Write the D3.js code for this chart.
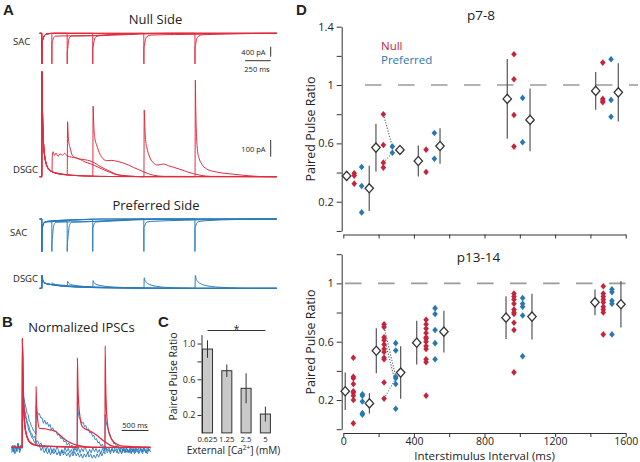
<!DOCTYPE html>
<html><head><meta charset="utf-8">
<script src="https://cdn.jsdelivr.net/npm/d3@7"></script>
<style>body{margin:0;background:#fff}svg{font-family:'Open Sans',sans-serif;display:block}</style>
</head><body><svg id="c" width="640" height="462"></svg>
<script>
// ================= DATA =================
// Panel A: paired-pulse traces (time ms, current pA); ISIs of the second stimulus
const isiA = [100, 250, 500, 1000, 1500];
const nullSac100 = [[-20,0],[0,0],[0.5,-1230],[1.5,-260],[6,-290],[14,-200],[28,-90],[50,-30],[99,0],[99.5,-1230],[100.5,-420],[106,-330],[118,-170],[135,-115],[200,-105],[350,-100],[550,-95],[700,-50],[900,-15],[1200,0],[2300,0]];
const nullSac250 = [[-20,0],[0,0],[0.5,-1230],[1.5,-240],[6,-280],[14,-190],[28,-80],[50,-25],[120,0],[249,0],[249.5,-1230],[250.5,-800],[255,-600],[263,-300],[275,-150],[300,-110],[450,-100],[600,-70],[800,-25],[1100,0],[2300,0]];
const nullSac500 = [[-20,0],[0,0],[0.5,-1230],[1.5,-250],[6,-290],[14,-200],[28,-85],[50,-25],[120,0],[499,0],[499.5,-1230],[500.5,-650],[505,-500],[514,-280],[528,-150],[560,-100],[800,-60],[1000,-25],[1300,0],[2300,0]];
const nullSac1000 = [[-20,0],[0,0],[0.5,-1230],[1.5,-250],[6,-280],[14,-190],[28,-80],[50,-25],[120,0],[999,0],[999.5,-1230],[1000.5,-600],[1005,-480],[1014,-260],[1030,-130],[1070,-70],[1300,-50],[1500,-40],[1800,-10],[2300,0]];
const nullSac1500 = [[-20,0],[0,0],[0.5,-1230],[1.5,-250],[6,-280],[14,-190],[28,-80],[50,-25],[120,0],[1499,0],[1499.5,-1230],[1500.5,-600],[1505,-480],[1514,-260],[1530,-130],[1570,-60],[1800,-30],[2100,-5],[2300,0]];

const nullFirst = [[-20,0],[0,0],[0.5,0],[3,630],[7,430],[12,290],[20,180],[30,120],[45,75],[65,48],[90,34]];
const nullDsgc100 = [[100,30],[101,30],[104,125],[112,150],[125,128],[140,142],[160,122],[180,138],[200,128],[225,140],[250,125],[290,118],[340,112],[375,104],[425,88],[475,78],[520,66],[570,52],[620,38],[670,26],[730,12],[850,4],[1000,0],[2300,0]];
const nullDsgc250 = [[120,26],[160,20],[200,15],[249,12],[250,12],[253,330],[260,240],[268,195],[277,175],[300,128],[340,112],[375,106],[420,102],[473,95],[520,82],[570,62],[620,46],[668,32],[734,14],[850,4],[1000,0],[2300,0]];
const nullDsgc500 = [[130,24],[200,16],[300,9],[400,5],[499,3],[500,3],[503,423],[510,300],[520,230],[538,190],[570,135],[600,108],[636,96],[680,98],[740,92],[798,82],[850,70],[896,56],[950,42],[994,30],[1092,9],[1200,2],[2300,0]];
const nullDsgc1000 = [[130,22],[200,14],[300,8],[450,4],[700,1],[999,0],[1000,0],[1003,400],[1010,280],[1018,210],[1027,180],[1060,112],[1100,80],[1125,70],[1160,73],[1190,76],[1240,66],[1288,57],[1350,45],[1419,30],[1549,9],[1650,2],[2300,0]];
const nullDsgc1500 = [[130,22],[200,14],[300,8],[450,4],[700,1],[1499,0],[1500,0],[1503,580],[1508,380],[1515,240],[1523,165],[1540,110],[1560,82],[1614,46],[1712,28],[1875,15],[2038,5],[2200,0],[2300,0]];

const prefSac100 = [[-20,0],[0,0],[0.5,-1300],[1.5,-300],[6,-320],[14,-220],[28,-130],[60,-110],[99,-110],[99.5,-1300],[100.5,-1000],[105,-750],[112,-420],[122,-220],[140,-130],[300,-115],[500,-100],[700,-60],[900,-20],[1200,0],[2300,0]];
const prefSac250 = [[-20,0],[0,0],[0.5,-1300],[1.5,-300],[6,-320],[14,-220],[28,-130],[60,-110],[150,-100],[249,-90],[249.5,-1300],[250.5,-1100],[256,-800],[264,-450],[275,-220],[295,-130],[400,-115],[600,-80],[800,-30],[1100,0],[2300,0]];
const prefSac500 = [[-20,0],[0,0],[0.5,-1300],[1.5,-300],[6,-320],[14,-220],[28,-130],[60,-100],[200,-70],[350,-40],[499,-20],[499.5,-1300],[500.5,-350],[505,-300],[515,-180],[530,-120],[700,-80],[900,-40],[1200,-10],[2300,0]];
const prefSac1000 = [[-20,0],[0,0],[0.5,-1300],[1.5,-300],[6,-320],[14,-220],[28,-130],[60,-90],[200,-50],[400,-20],[600,0],[999,0],[999.5,-1300],[1000.5,-330],[1005,-300],[1015,-190],[1030,-120],[1100,-90],[1400,-50],[1800,-10],[2300,0]];
const prefSac1500 = [[-20,0],[0,0],[0.5,-1300],[1.5,-300],[6,-320],[14,-220],[28,-130],[60,-90],[200,-50],[400,-20],[600,0],[1499,0],[1499.5,-1300],[1500.5,-330],[1505,-300],[1515,-180],[1530,-110],[1600,-70],[1900,-20],[2300,0]];

const prefFirst = [[-20,0],[0,0],[0.5,0],[3,80],[8,55],[15,42],[30,32],[60,26],[99,22]];
const prefDsgc100 = [[100,22],[103,34],[115,26],[150,22],[250,16],[400,10],[600,5],[900,2],[1200,0],[2300,0]];
const prefDsgc250 = [[150,18],[200,15],[249,14],[250,14],[253,42],[262,32],[280,24],[320,18],[400,12],[600,6],[900,2],[1200,0],[2300,0]];
const prefDsgc500 = [[150,17],[250,12],[350,9],[499,6],[500,6],[503,46],[512,34],[530,25],[570,17],[650,10],[800,5],[1000,2],[1300,0],[2300,0]];
const prefDsgc1000 = [[150,17],[250,11],[400,6],[600,3],[999,1],[1000,1],[1003,63],[1010,48],[1025,36],[1060,22],[1120,12],[1200,6],[1350,2],[1500,0],[2300,0]];
const prefDsgc1500 = [[150,17],[250,11],[400,6],[600,3],[900,1],[1499,0],[1500,0],[1503,78],[1510,58],[1525,42],[1560,26],[1620,15],[1700,8],[1850,3],[2000,0],[2300,0]];

// Panel B: normalized IPSCs (time ms, normalized amplitude)
const redFirstB = [[-200,0],[0,0],[2,1.0],[8,0.7],[19,0.46],[35,0.28],[50,0.19],[80,0.11],[112,0.067],[160,0.04],[250,0.02]];
const redB250 = [[255,0.02],[258,0.56],[265,0.42],[270,0.35],[282,0.28],[320,0.175],[425,0.17],[519,0.16],[612,0.15],[706,0.11],[831,0.06],[1019,0.02],[1300,0],[2400,0]];
const redB1000 = [[400,0.01],[1028,0],[1031,0.82],[1042,0.55],[1056,0.40],[1080,0.28],[1112,0.2],[1174,0.17],[1268,0.15],[1393,0.11],[1517,0.06],[1642,0.02],[1800,0],[2400,0]];
const redB1500 = [[400,0.01],[1548,0],[1551,0.93],[1560,0.6],[1573,0.37],[1590,0.24],[1610,0.16],[1674,0.07],[1768,0.03],[1891,0.01],[2400,0]];
const blueB250 = [[-200,-0.03],[-175,0.02],[-150,-0.05],[-125,0.01],[-100,-0.04],[-75,0.03],[-50,-0.02],[-25,0.02],[0,-0.01],[5,0.92],[15,0.6],[30,0.46],[50,0.40],[70,0.36],[90,0.31],[110,0.30],[130,0.24],[150,0.23],[170,0.19],[190,0.18],[210,0.15],[235,0.14],[255,0.12],[259,0.38],[275,0.33],[295,0.30],[320,0.31],[345,0.27],[370,0.27],[395,0.22],[420,0.25],[445,0.21],[470,0.23],[495,0.19],[520,0.21],[545,0.16],[570,0.18],[600,0.14],[630,0.15],[660,0.11],[690,0.12],[720,0.08],[750,0.09],[780,0.05],[810,0.06],[840,0.02],[870,0.04],[900,0.0],[930,0.02],[960,-0.03],[990,0.01],[1020,-0.04],[1050,0.0],[1080,-0.05],[1110,-0.01],[1140,-0.04],[1170,0.01],[1200,-0.03],[1230,-0.06],[1260,-0.02],[1290,-0.05],[1320,0.0],[1350,-0.04],[1380,-0.01],[1410,-0.05],[1440,-0.02],[1470,-0.06],[1500,-0.01],[1530,-0.04],[1560,0.0],[1590,-0.05],[1620,-0.02],[1650,-0.06],[1680,-0.01],[1710,-0.04],[1740,0.01],[1770,-0.03],[1800,-0.06],[1830,-0.02],[1860,-0.05],[1890,0.0],[1920,-0.04],[1950,-0.01],[1980,-0.05],[2010,-0.02],[2040,-0.06],[2070,-0.01],[2100,-0.04],[2130,0.01],[2160,-0.03],[2190,-0.05],[2220,-0.01],[2250,-0.04],[2280,0.0],[2310,-0.03],[2340,-0.06],[2370,-0.02],[2400,-0.04]];
const blueB1000 = [[-200,0.01],[-170,-0.04],[-140,0.02],[-110,-0.03],[-80,0.03],[-50,-0.05],[-20,0.0],[0,0.0],[5,0.88],[15,0.55],[30,0.40],[50,0.33],[75,0.27],[100,0.22],[125,0.19],[150,0.14],[175,0.13],[200,0.09],[230,0.1],[260,0.05],[290,0.06],[320,0.02],[350,0.04],[380,-0.01],[410,0.02],[440,-0.03],[470,0.01],[500,-0.04],[530,0.0],[560,-0.05],[590,-0.01],[620,-0.04],[650,0.01],[680,-0.03],[710,-0.06],[740,-0.02],[770,-0.05],[800,0.0],[830,-0.04],[860,-0.01],[890,-0.05],[920,-0.02],[950,-0.06],[980,-0.01],[1010,-0.03],[1028,-0.02],[1032,0.42],[1045,0.33],[1065,0.27],[1090,0.25],[1115,0.22],[1140,0.23],[1165,0.19],[1190,0.2],[1215,0.16],[1240,0.17],[1265,0.13],[1290,0.14],[1315,0.1],[1340,0.11],[1365,0.07],[1390,0.08],[1415,0.04],[1440,0.05],[1470,0.01],[1500,0.03],[1530,-0.02],[1560,0.01],[1590,-0.03],[1620,0.0],[1650,-0.04],[1680,-0.01],[1710,-0.05],[1740,-0.02],[1770,-0.05],[1800,0.0],[1830,-0.03],[1860,-0.06],[1890,-0.02],[1920,-0.05],[1950,0.0],[1980,-0.04],[2010,-0.01],[2040,-0.05],[2070,-0.02],[2100,-0.06],[2130,-0.01],[2160,-0.04],[2190,0.01],[2220,-0.03],[2250,-0.06],[2280,-0.02],[2310,-0.05],[2340,0.0],[2370,-0.03],[2400,-0.01]];
const blueB1500 = [[-200,-0.05],[-170,0.0],[-140,-0.06],[-110,-0.02],[-80,0.04],[-50,-0.03],[-20,0.02],[0,0.0],[5,0.85],[15,0.52],[30,0.37],[50,0.3],[75,0.24],[100,0.2],[125,0.15],[150,0.13],[175,0.09],[200,0.08],[230,0.04],[260,0.05],[290,0.01],[320,0.02],[350,-0.03],[380,0.0],[410,-0.05],[440,-0.02],[470,-0.06],[500,-0.03],[530,-0.07],[560,-0.02],[590,-0.06],[620,-0.03],[650,-0.07],[680,-0.04],[710,-0.08],[740,-0.03],[770,-0.07],[800,-0.04],[830,-0.08],[860,-0.05],[890,-0.09],[920,-0.05],[950,-0.08],[980,-0.04],[1010,-0.08],[1040,-0.05],[1070,-0.09],[1100,-0.06],[1130,-0.1],[1160,-0.06],[1190,-0.09],[1220,-0.05],[1250,-0.09],[1280,-0.06],[1310,-0.1],[1340,-0.07],[1370,-0.1],[1400,-0.06],[1430,-0.09],[1460,-0.05],[1490,-0.08],[1520,-0.04],[1548,-0.06],[1552,0.3],[1565,0.24],[1585,0.2],[1605,0.17],[1625,0.13],[1645,0.12],[1665,0.08],[1690,0.07],[1715,0.03],[1740,0.04],[1765,0.0],[1790,0.02],[1820,-0.03],[1850,0.0],[1880,-0.04],[1910,-0.01],[1940,-0.05],[1970,-0.02],[2000,-0.05],[2030,0.0],[2060,-0.04],[2090,-0.01],[2120,-0.05],[2150,-0.02],[2180,-0.06],[2210,-0.01],[2240,-0.04],[2270,0.0],[2300,-0.03],[2330,-0.05],[2360,-0.01],[2400,-0.04]];

// Panel C: PPR vs external calcium
const caLabels = ["0.625", "1.25", "2.5", "5"];
const caPPR = [0.938, 0.696, 0.499, 0.211];
const caErr = [0.098, 0.07, 0.168, 0.084];
const cYTicks = [0.2, 0.4, 0.6, 0.8, 1.0];
const cYLabels = [0.2, 0.6, 1.0];

// Panel D: paired pulse ratio vs interstimulus interval
const dXTicks = [0, 200, 400, 600, 800, 1000, 1200, 1400, 1600];
const dXLabels = [0, 400, 800, 1200, 1600];
const dYTicksTop = [0, 0.2, 0.4, 0.6, 0.8, 1.0, 1.2, 1.4];
const dYTicksBot = [0, 0.2, 0.4, 0.6, 0.8, 1.0, 1.2];
const dYLabels = [0.2, 0.6, 1, 1.4];

const p78_xNullMean = [19, 185, 425, 929, 1430];
const p78_nullMean = [0.377, 0.571, 0.479, 0.905, 0.96];
const p78_nullErr = [0, 0.163, 0.106, 0.274, 0.13];
const p78_xNull = [62, 227, 469, 967, 1470];
const p78_null = [[0.395,0.379,0.324],[0.80,0.589,0.468,0.434],[0.557,0.404],[1.211,1.04,0.795,0.578],[1.154,0.905,0.891,0.882]];
const p78_xPref = [104, 278, 516, 1016, 1517];
const p78_pref = [[0.438,0.308,0.127],[0.578,0.536],[0.671,0.495],[0.912,0.608],[1.177,0.898,0.783]];
const p78_xPrefMean = [147, 321, 548, 1058, 1558];
const p78_prefMean = [0.292, 0.555, 0.582, 0.761, 0.95];
const p78_prefErr = [0.155, 0, 0.122, 0.215, 0.2];
const p78_pairs = [[0.80, 0.578], [0.468, 0.536]];

const p1314_xNullMean = [11, 187, 416, 922, 1426];
const p1314_nullMean = [0.26, 0.538, 0.593, 0.765, 0.87];
const p1314_nullErr = [0.128, 0.155, 0.15, 0.146, 0.088];
const p1314_xNull = [57, 231, 469, 967, 1473];
const p1314_null = [[0.49,0.36,0.35,0.31,0.26,0.25,0.23,0.20,0.04],[0.72,0.70,0.63,0.61,0.58,0.55,0.53,0.49,0.48,0.32,0.21],[0.75,0.72,0.69,0.66,0.63,0.62,0.60,0.57,0.55,0.48,0.46,0.23],[0.93,0.91,0.89,0.86,0.82,0.80,0.79,0.73,0.68,0.39],[0.98,0.93,0.91,0.89,0.87,0.84,0.82,0.80,0.65]];
const p1314_xPref = [108, 297, 520, 1016, 1522];
const p1314_pref = [[0.24,0.23,0.19,0.11,0.10],[0.59,0.54,0.36,0.35,0.31,0.14],[0.83,0.79,0.68,0.59,0.48],[0.90,0.86,0.84,0.78,0.50],[0.96,0.94,0.88,0.86,0.65]];
const p1314_xPrefMean = [148, 325, 570, 1069, 1573];
const p1314_prefMean = [0.177, 0.388, 0.669, 0.772, 0.857];
const p1314_prefErr = [0.07, 0.18, 0.143, 0.157, 0.16];
const p1314_pairs = [[0.70, 0.36], [0.63, 0.31], [0.21, 0.35]];

// ================= DRAWING =================
const svg = d3.select('#c');
const RED = '#e12b3e', BLUE = '#2a7bbb', DRED = '#c3253c', DBLUE = '#2878b0', AX = '#333';
const line = (x, y) => d3.line().x(d => x(d[0])).y(d => y(d[1])).curve(d3.curveMonotoneX);
function txt(x, y, s, size, opts = {}) {
  const t = svg.append('text').attr('x', x).attr('y', y).attr('font-size', size).text(s)
    .attr('text-anchor', opts.anchor || 'start').attr('fill', opts.fill || '#222');
  if (opts.bold) t.attr('font-weight', 'bold').attr('font-family', "'Liberation Sans',Arial,sans-serif");
  if (opts.rot) t.attr('transform', `rotate(-90,${x},${y})`);
  return t;
}

// ---- Panel A ----
const xA = d3.scaleLinear().domain([0, 2300]).range([41.7, 276.8]);
const ySacN = d3.scaleLinear().domain([0, -1230]).range([33.3, 64]);
const yDsN = d3.scaleLinear().domain([0, 630]).range([176.7, 71.7]);
const ySacP = d3.scaleLinear().domain([0, -1300]).range([219, 251.5]);
const yDsP = d3.scaleLinear().domain([0, 80]).range([288.3, 275]);
const gA = svg.append('g').attr('fill', 'none').attr('stroke-width', 1);
const nullSacs = [nullSac100, nullSac250, nullSac500, nullSac1000, nullSac1500];
const nullDs = [nullDsgc100, nullDsgc250, nullDsgc500, nullDsgc1000, nullDsgc1500].map(d => nullFirst.concat(d));
const prefSacs = [prefSac100, prefSac250, prefSac500, prefSac1000, prefSac1500];
const prefDs = [prefDsgc100, prefDsgc250, prefDsgc500, prefDsgc1000, prefDsgc1500].map(d => prefFirst.concat(d));
isiA.forEach((isi, i) => {
  gA.append('path').attr('d', line(xA, ySacN)(nullSacs[i])).attr('stroke', RED);
  gA.append('path').attr('d', line(xA, yDsN)(nullDs[i])).attr('stroke', RED);
  gA.append('path').attr('d', line(xA, ySacP)(prefSacs[i])).attr('stroke', BLUE);
  gA.append('path').attr('d', line(xA, yDsP)(prefDs[i])).attr('stroke', BLUE);
});
// scale bars
const sb = svg.append('g').attr('stroke', '#333').attr('stroke-width', 1);
sb.append('line').attr('x1', 270.7).attr('x2', 270.7).attr('y1', ySacN(0) + 13.4).attr('y2', ySacN(0) + 13.4 + (ySacN(-400) - ySacN(0)));
sb.append('line').attr('x1', 270.7 - (xA(250) - xA(0))).attr('x2', 270.7).attr('y1', 60.7).attr('y2', 60.7);
sb.append('line').attr('x1', 270.7).attr('x2', 270.7).attr('y1', 140).attr('y2', 140 + (yDsN(0) - yDsN(100)));
txt(3, 15, 'A', 15, {bold: true});
txt(155.5, 23.5, 'Null Side', 13, {anchor: 'middle'});
txt(156, 210, 'Preferred Side', 13, {anchor: 'middle'});
txt(13, 45, 'SAC', 9.5); txt(13, 173, 'DSGC', 9.5);
txt(10, 236, 'SAC', 9.5); txt(13, 282, 'DSGC', 9.5);
txt(265.5, 55, '400 pA', 7.5, {anchor: 'end'});
txt(257, 71.5, '250 ms', 7.5, {anchor: 'middle'});
txt(265.5, 152, '100 pA', 7.5, {anchor: 'end'});

// ---- Panel B ----
const xB = d3.scaleLinear().domain([0, 2400]).range([22.3, 150.5]);
const yB = d3.scaleLinear().domain([0, 1]).range([447.3, 338.3]);
const gB = svg.append('g').attr('fill', 'none');
[blueB250, blueB1000, blueB1500].forEach(d => gB.append('path').attr('d', d3.line().x(p => xB(p[0])).y(p => yB(p[1]))(d)).attr('stroke', BLUE).attr('stroke-width', 0.9));
[redB250, redB1000, redB1500].forEach(d => gB.append('path').attr('d', line(xB, yB)(redFirstB.concat(d))).attr('stroke', RED).attr('stroke-width', 1.2));
svg.append('line').attr('x1', 121.7).attr('x2', 121.7 + xB(500) - xB(0)).attr('y1', 430.5).attr('y2', 430.5).attr('stroke', '#333');
txt(135, 428, '500 ms', 7.5, {anchor: 'middle'});
txt(2, 327, 'B', 15, {bold: true});
txt(81.5, 331.5, 'Normalized IPSCs', 13, {anchor: 'middle'});

// ---- Panel C ----
const xC = d3.scaleBand().domain(caLabels).range([202.5, 270.4]).paddingInner(0.48).paddingOuter(0);
const yC = d3.scaleLinear().domain([0, 1.1]).range([432.9, 334.6]);
const gC = svg.append('g');
gC.selectAll('rect').data(caPPR).join('rect')
  .attr('x', (d, i) => xC(caLabels[i])).attr('width', xC.bandwidth())
  .attr('y', d => yC(d)).attr('height', d => yC(0) - yC(d))
  .attr('fill', '#c9c9c9').attr('stroke', '#333').attr('stroke-width', 1);
gC.selectAll('line.err').data(caPPR).join('line').attr('class', 'err')
  .attr('x1', (d, i) => xC(caLabels[i]) + xC.bandwidth() / 2).attr('x2', (d, i) => xC(caLabels[i]) + xC.bandwidth() / 2)
  .attr('y1', (d, i) => yC(d + caErr[i])).attr('y2', (d, i) => yC(d - caErr[i]))
  .attr('stroke', '#333').attr('stroke-width', 1);
const axC = gC.append('g').attr('transform', 'translate(201.5,0)')
  .call(d3.axisLeft(yC).tickValues(cYTicks).tickSize(4).tickSizeOuter(0).tickPadding(2)
    .tickFormat(d => cYLabels.some(v => Math.abs(v - d) < 1e-6) ? d.toFixed(1) : ''));
axC.selectAll('path,line').attr('stroke', AX);
axC.selectAll('text').attr('font-size', 9).attr('font-family', "'Open Sans',sans-serif").attr('fill', '#222');
caLabels.forEach(l => txt(xC(l) + xC.bandwidth() / 2, 441.5, l, 7.8, {anchor: 'middle'}));
const caT = txt(233.5, 454, 'External  [Ca', 10, {anchor: 'middle'});
caT.append('tspan').attr('dy', -4).attr('font-size', 6.5).text('2+');
caT.append('tspan').attr('dy', 4).text('] (mM)');
txt(176.5, 376.5, 'Paired Pulse Ratio', 10.5, {anchor: 'middle', rot: true});
svg.append('line').attr('x1', xC(caLabels[0]) + xC.bandwidth() / 2).attr('x2', xC(caLabels[3]) + xC.bandwidth() / 2)
  .attr('y1', 330.5).attr('y2', 330.5).attr('stroke', '#333');
txt(236.5, 333, '*', 10, {anchor: 'middle'});
txt(158, 327, 'C', 15, {bold: true});

// ---- Panel D ----
const xD = d3.scaleLinear().domain([0, 1600]).range([343.3, 625.7]);
function diamond(w, h) { return `M0,${-h}L${w},0L0,${h}L${-w},0Z`; }
function panelD(o) {
  const y = d3.scaleLinear().domain([0, o.ymax]).range(o.range);
  const g = svg.append('g');
  const ay = g.append('g').attr('transform', 'translate(341.7,0)')
    .call(d3.axisLeft(y).tickValues(o.yticks).tickSize(5).tickSizeOuter(0).tickPadding(3)
      .tickFormat(d => dYLabels.some(v => Math.abs(v - d) < 1e-6) ? String(+d.toFixed(1)) : ''));
  const ax = g.append('g').attr('transform', `translate(0,${o.xAxisY})`)
    .call(d3.axisBottom(xD).tickValues(dXTicks).tickSize(4).tickSizeOuter(0).tickPadding(0.5)
      .tickFormat(d => o.xlabels && dXLabels.includes(d) ? d : ''));
  ay.selectAll('text').attr('font-size', 11);
  ax.selectAll('text').attr('font-size', 10.5);
  [ay, ax].forEach(a => {
    a.selectAll('path,line').attr('stroke', AX);
    a.selectAll('text').attr('font-family', "'Open Sans',sans-serif").attr('fill', '#222');
  });
  // reference dashed line at 1
  g.append('line').attr('x1', xD(o.dashFrom)).attr('x2', xD(1670)).attr('y1', y(1)).attr('y2', y(1))
    .attr('stroke', '#9a9a9a').attr('stroke-width', 1.6).attr('stroke-dasharray', '16.5,16.5');
  // paired dotted lines (group 2)
  o.pairs.forEach((p, k) => g.append('line')
    .attr('x1', xD(o.xNull[1])).attr('y1', y(p[0])).attr('x2', xD(o.xPref[1])).attr('y2', y(p[1]))
    .attr('stroke', k === o.pairs.length - 1 ? '#5b86b0' : '#555').attr('stroke-width', 1.1).attr('stroke-dasharray', '1.2,1.6'));
  // individual cells
  o.null.forEach((arr, i) => arr.forEach(v => g.append('path').attr('d', diamond(2.8, 3.3))
    .attr('transform', `translate(${xD(o.xNull[i])},${y(v)})`).attr('fill', DRED)));
  o.pref.forEach((arr, i) => arr.forEach(v => g.append('path').attr('d', diamond(2.8, 3.3))
    .attr('transform', `translate(${xD(o.xPref[i])},${y(v)})`).attr('fill', DBLUE)));
  // means with error bars
  const means = [];
  o.nullMean.forEach((m, i) => means.push([o.xNullMean[i], m, o.nullErr[i]]));
  o.prefMean.forEach((m, i) => means.push([o.xPrefMean[i], m, o.prefErr[i]]));
  means.forEach(([xm, m, e]) => {
    if (e > 0) g.append('line').attr('x1', xD(xm)).attr('x2', xD(xm)).attr('y1', y(m + e)).attr('y2', y(m - e))
      .attr('stroke', '#555').attr('stroke-width', 1.2);
    g.append('path').attr('d', diamond(4.2, 4.6)).attr('transform', `translate(${xD(xm)},${y(m)})`)
      .attr('fill', '#fff').attr('stroke', '#333').attr('stroke-width', 1.3);
  });
  txt(o.titleX, o.titleY, o.title, 13.5, {anchor: 'middle'});
  txt(314.5, o.labelY, 'Paired Pulse Ratio', 12.5, {anchor: 'middle', rot: true});
}
panelD({ymax: 1.4, range: [230.9, 26.7], yticks: dYTicksTop, xAxisY: 234.5, xlabels: false, dashFrom: 123,
  xNullMean: p78_xNullMean, nullMean: p78_nullMean, nullErr: p78_nullErr, xNull: p78_xNull, null: p78_null,
  xPref: p78_xPref, pref: p78_pref, xPrefMean: p78_xPrefMean, prefMean: p78_prefMean, prefErr: p78_prefErr,
  pairs: p78_pairs, title: 'p7-8', titleX: 481, titleY: 19.5, labelY: 129});
panelD({ymax: 1.2, range: [429.2, 254.2], yticks: dYTicksBot, xAxisY: 433, xlabels: true, dashFrom: 10,
  xNullMean: p1314_xNullMean, nullMean: p1314_nullMean, nullErr: p1314_nullErr, xNull: p1314_xNull, null: p1314_null,
  xPref: p1314_xPref, pref: p1314_pref, xPrefMean: p1314_xPrefMean, prefMean: p1314_prefMean, prefErr: p1314_prefErr,
  pairs: p1314_pairs, title: 'p13-14', titleX: 478.5, titleY: 262, labelY: 342});
txt(484.5, 460, 'Interstimulus Interval (ms)', 11.5, {anchor: 'middle'});
txt(381, 49.5, 'Null', 11.5, {fill: DRED});
txt(381, 64, 'Preferred', 11.5, {fill: DBLUE});
txt(296, 15, 'D', 15, {bold: true});
</script></body></html>
